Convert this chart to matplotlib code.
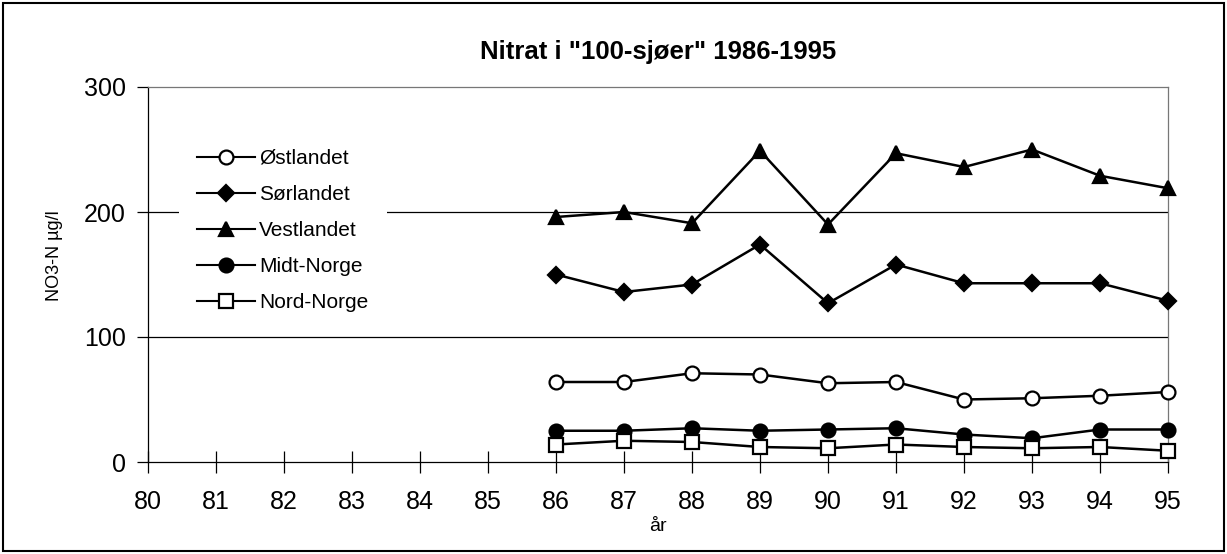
import matplotlib
matplotlib.use("Agg")
import matplotlib.pyplot as plt
from matplotlib.patches import Rectangle

plt.rcParams['font.family'] = ['Liberation Sans', 'DejaVu Sans']

years = [86, 87, 88, 89, 90, 91, 92, 93, 94, 95]
xticks = list(range(80, 96))
yticks = [0, 100, 200, 300]

ostlandet = [64, 64, 71, 70, 63, 64, 50, 51, 53, 56]
sorlandet = [150, 136, 142, 174, 127, 158, 143, 143, 143, 129]
vestlandet = [196, 200, 191, 249, 190, 247, 236, 250, 229, 219]
midtnorge = [25, 25, 27, 25, 26, 27, 22, 19, 26, 26]
nordnorge = [14, 17, 16, 12, 11, 14, 12, 11, 12, 9]

series = [
    ("Østlandet", ostlandet, 'o', 'white', 10),
    ("Sørlandet", sorlandet, 'D', 'black', 8.5),
    ("Vestlandet", vestlandet, '^', 'black', 10.5),
    ("Midt-Norge", midtnorge, 'o', 'black', 10),
    ("Nord-Norge", nordnorge, 's', 'white', 9.5),
]

fig = plt.figure(figsize=(12.27, 5.54), dpi=100)
ax = fig.add_axes([148/1227, 1-462/554, (1168-148)/1227, (462-87)/554])

for ycoord in [100, 200]:
    ax.axhline(ycoord, color='black', lw=0.9, zorder=1)

for name, vals, mk, fc, ms in series:
    ax.plot(years, vals, color='black', lw=1.8, marker=mk, markersize=ms,
            markerfacecolor=fc, markeredgecolor='black', markeredgewidth=1.6,
            label=name, zorder=3, clip_on=False)

ax.set_xlim(80, 95)
ax.set_ylim(0, 300)
ax.set_xticks(xticks)
ax.set_xticklabels([str(x) for x in xticks])
ax.set_yticks(yticks)
ax.tick_params(axis='x', direction='inout', length=16, width=0.9, labelsize=18, pad=12)
ax.tick_params(axis='y', direction='out', length=8, width=0.9, labelsize=18, pad=8)

ax.spines['left'].set_color('black')
ax.spines['left'].set_linewidth(0.9)
ax.spines['bottom'].set_color('black')
ax.spines['bottom'].set_linewidth(0.9)
for s in ['top', 'right']:
    ax.spines[s].set_color('#777777')
    ax.spines[s].set_linewidth(0.9)

ax.set_xlabel("år", fontsize=14, labelpad=3)
ax.set_ylabel("NO3-N µg/l", fontsize=13)
ax.yaxis.set_label_coords(-0.083, 0.55)
ax.set_title('Nitrat i "100-sjøer" 1986-1995', fontsize=18.5, fontweight='bold', pad=20)

leg = ax.legend(loc='upper left', bbox_to_anchor=(0.030, 0.885), fontsize=15,
                frameon=True, facecolor='white', edgecolor='none', framealpha=1,
                handlelength=2.75, handletextpad=0.2, labelspacing=0.82,
                borderpad=0.9, borderaxespad=0, fancybox=False)
for h in leg.legend_handles:
    h.set_linewidth(1.5)
leg.set_zorder(2)

fig.patches.append(Rectangle((3/1227, 3/554), 1221/1227, 548/554,
                             transform=fig.transFigure, fill=False,
                             edgecolor='black', lw=1.5))

fig.savefig("out.png", dpi=100)
